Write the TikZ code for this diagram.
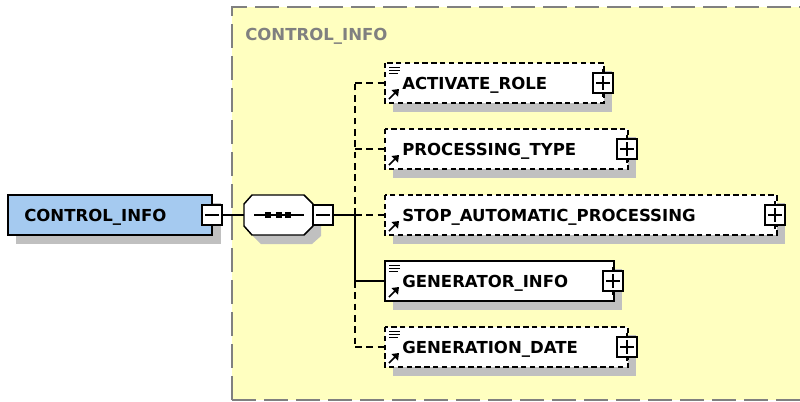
\documentclass[tikz,border=0pt]{standalone}
\usepackage{fontspec}
\setmainfont{DejaVu Sans}[BoldFont={DejaVu Sans Bold}]
\definecolor{panelfill}{RGB}{255,255,192}
\definecolor{rootfill}{RGB}{165,202,240}
\definecolor{shadowc}{RGB}{192,192,192}
\definecolor{panelline}{RGB}{128,128,128}
\tikzset{
  x=0.75pt,y=-0.75pt,
  lbl/.style={font=\fontsize{12.4}{14}\selectfont\bfseries,inner sep=0pt,anchor=base west,text=black},
  shadowbox/.style={fill=shadowc,draw=none},
  solidbox/.style={fill=white,draw=black,line width=1.1pt},
  dashbox/.style={fill=white,draw=black,line width=1.1pt,dash pattern=on 4pt off 2.6pt},
  conn/.style={draw=black,line width=1.1pt},
  dashconn/.style={conn,dash pattern=on 5pt off 3.5pt},
  togglebox/.style={draw=black,fill=white,line width=1.1pt,minimum width=15pt,minimum height=15pt,inner sep=0pt,rectangle},
}
\newcommand{\toggleminus}[3]{%
  \node[togglebox] (#1) at (#2,#3) {};
  \draw[line width=0.8pt] (#2-7,#3) -- (#2+7,#3);}
\newcommand{\toggleplus}[3]{%
  \draw[line width=1.1pt] (#2,#3-14) -- (#2,#3+14);
  \node[togglebox] (#1) at (#2,#3) {};
  \draw[line width=0.8pt] (#2-7,#3) -- (#2+7,#3) (#2,#3-7) -- (#2,#3+7);}
% name, right, top, label, style, toggle centre x
\newcommand{\elembox}[7]{%
  \fill[shadowbox] (393,#3+8) rectangle (#2+8,#3+49);
  \path[#5] (385,#3) rectangle (#2,#3+40);
  \coordinate (#1) at (385,#3+20);
  \ifx#6\empty\else
  \draw[line width=0.7pt] (389,#3+4) -- (400,#3+4) (389,#3+7) -- (400,#3+7) (389,#3+10) -- (398,#3+10);
  \fi
  \draw[line width=1.2pt] (389,#3+36) -- (397,#3+28);
  \fill (399,#3+26) -- (391.5,#3+27) -- (398,#3+33.5) -- cycle;
  \node[lbl] (#1t) at (402,#3+26) {#4};
  \toggleplus{#1p}{#7}{#3+20}
}
\begin{document}
\begin{tikzpicture}
\useasboundingbox (0,0) rectangle (800,401);
\fill[white] (0,0) rectangle (800,401);
% panel
\fill[panelfill] (232,7) rectangle (800,400);
\draw[panelline,line width=1.5pt,dash pattern=on 18pt off 6pt] (232,400) -- (232,7) -- (800,7);
\draw[panelline,line width=1.5pt,dash pattern=on 18pt off 6pt] (232,400) -- (800,400);
\node[lbl,text=panelline] (paneltitle) at (245,40) {CONTROL\_INFO};
% root
\fill[shadowbox] (16,203) rectangle (221,244);
\draw[fill=rootfill,line width=1.1pt] (8,195) rectangle (212,235);
\node[lbl] (root) at (24,221) {CONTROL\_INFO};
% sequence
\fill[shadowbox] (253,203) -- (312,203) -- (321,212) -- (321,236) -- (312,244) -- (261,244) -- (253,236) -- cycle;
\draw[fill=white,line width=1.1pt] (252,195) -- (304,195) -- (313,204) -- (313,226) -- (304,235) -- (252,235) -- (244,226) -- (244,204) -- cycle;
\coordinate (seqL) at (244,215);
\coordinate (seqR) at (313,215);
\draw[line width=0.9pt] (254,215) -- (304,215);
\foreach \px in {268,279,288} \fill (\px-3,212) rectangle (\px+3,218);
\toggleminus{rootT}{212}{215}
\toggleminus{seqT}{323}{215}
\coordinate (spine) at (355,215);
\coordinate (spineTop) at (355,83);
\coordinate (spineProc) at (355,149);
\coordinate (spineGen) at (355,281);
\coordinate (spineDate) at (355,347);
% connectors
\draw[conn] (rootT) -- (seqL);
\draw[conn] (seqT) -- (spine);
\draw[conn] (spine) -- (spineGen);
\draw[dashconn] (spine) -- (spineTop);
\draw[dashconn] (spineGen) -- (spineDate);
\draw[dashconn] (spineTop) -- (385,83);
\draw[dashconn] (spineProc) -- (385,149);
\draw[dashconn] (spine) -- (385,215);
\draw[dashconn] (spineDate) -- (385,347);
\draw[conn] (spineGen) -- (385,281);
% elements
\elembox{act}{604}{63}{ACTIVATE\_ROLE}{dashbox}{x}{603}
\elembox{proc}{628}{129}{PROCESSING\_TYPE}{dashbox}{\empty}{627}
\elembox{stop}{777}{195}{STOP\_AUTOMATIC\_PROCESSING}{dashbox}{\empty}{775}
\elembox{gen}{614}{261}{GENERATOR\_INFO}{solidbox}{x}{613}
\elembox{date}{628}{327}{GENERATION\_DATE}{dashbox}{x}{627}
\end{tikzpicture}
\end{document}
